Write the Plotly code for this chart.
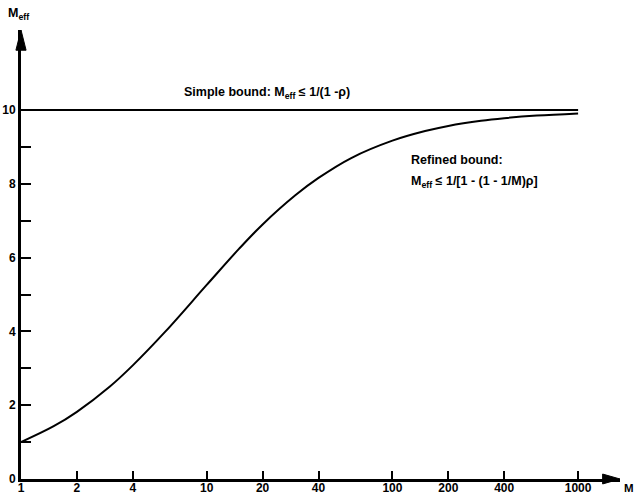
import plotly.graph_objects as go

# values (rho = 0.9)
m_values = [1, 1.5, 2, 3, 4, 6, 10, 15, 20, 30, 40, 60, 100, 150, 200, 300, 400, 600, 1000]
refined_bound = [1.0, 1.43, 1.82, 2.5, 3.08, 4.0, 5.26, 6.25, 6.9, 7.69, 8.16, 8.7, 9.17,
                 9.43, 9.57, 9.71, 9.78, 9.85, 9.91]
simple_m = [1, 1000]
simple_bound = [10, 10]

x_ticks = [1, 2, 4, 10, 20, 40, 100, 200, 400, 1000]
y_ticks = [0, 1, 2, 3, 4, 5, 6, 7, 8, 9, 10]
y_ticktext = ['0', '', '2', '', '4', '', '6', '', '8', '', '10']

FONT = 'Arial, Liberation Sans, sans-serif'
TEXT_FONT = dict(size=12.5, color='black', family=FONT, weight='bold')
TICK_FONT = dict(size=12, color='black', family=FONT, weight='bold')

fig = go.Figure()

fig.add_trace(go.Scatter(
    x=simple_m, y=simple_bound, mode='lines',
    line=dict(color='black', width=2), showlegend=False, hoverinfo='skip'
))
fig.add_trace(go.Scatter(
    x=m_values, y=refined_bound, mode='lines',
    line=dict(color='black', width=2, shape='spline'), showlegend=False, hoverinfo='skip'
))

# arrowheads on the axes
shapes = [
    dict(type='path', xref='paper', yref='paper',
         path='M -0.0085,0.955 L 0,1.0 L 0.0085,0.955 Z',
         fillcolor='black', line=dict(color='black', width=1)),
    dict(type='path', xref='paper', yref='paper',
         path='M 0.971,-0.011 L 1.0,0 L 0.971,0.011 Z',
         fillcolor='black', line=dict(color='black', width=1)),
]

annotations = [
    dict(text='M<sub>eff</sub>', xref='paper', yref='paper', x=-0.025, y=1.035,
         xanchor='left', yanchor='middle', showarrow=False, font=TEXT_FONT),
    dict(text='M', xref='paper', yref='paper', x=1.003, y=-0.02,
         xanchor='left', yanchor='middle', showarrow=False,
         font=dict(size=11.5, color='black', family=FONT, weight='bold')),
    dict(text='Simple bound: M<sub>eff</sub> \u2264 1/(1 -\u03c1)', xref='paper', yref='paper',
         x=0.268, y=0.86, xanchor='left', yanchor='middle', showarrow=False, font=TEXT_FONT),
    dict(text='Refined bound:', xref='paper', yref='paper',
         x=0.648, y=0.71, xanchor='left', yanchor='middle', showarrow=False, font=TEXT_FONT),
    dict(text='M<sub>eff</sub> \u2264 1/[1 - (1 - 1/M)\u03c1]', xref='paper', yref='paper',
         x=0.648, y=0.662, xanchor='left', yanchor='middle', showarrow=False, font=TEXT_FONT),
]

fig.update_layout(
    width=634, height=495,
    margin=dict(l=21, r=14, t=30, b=16),
    paper_bgcolor='white', plot_bgcolor='white',
    showlegend=False,
    shapes=shapes,
    annotations=annotations,
    xaxis=dict(
        type='log', range=[0, 3.2256], tickmode='array', tickvals=x_ticks,
        ticktext=[str(v) for v in x_ticks], ticks='inside', ticklen=8, tickwidth=2,
        tickcolor='black', showline=True, linecolor='black', linewidth=3,
        showgrid=False, zeroline=False, automargin=False, tickfont=TICK_FONT,
        ticklabelstandoff=-4
    ),
    yaxis=dict(
        range=[0, 12.17], tickmode='array', tickvals=y_ticks, ticktext=y_ticktext,
        ticks='inside', ticklen=10, tickwidth=2, tickcolor='black',
        showline=True, linecolor='black', linewidth=3, showgrid=False, zeroline=False,
        automargin=False, tickfont=TICK_FONT
    ),
)

# drop the default page margin so the figure sits flush in the window
fig.write_html("out.html", config={'displayModeBar': False},
               post_script="document.body.style.margin='0';document.body.style.overflow='hidden';")
